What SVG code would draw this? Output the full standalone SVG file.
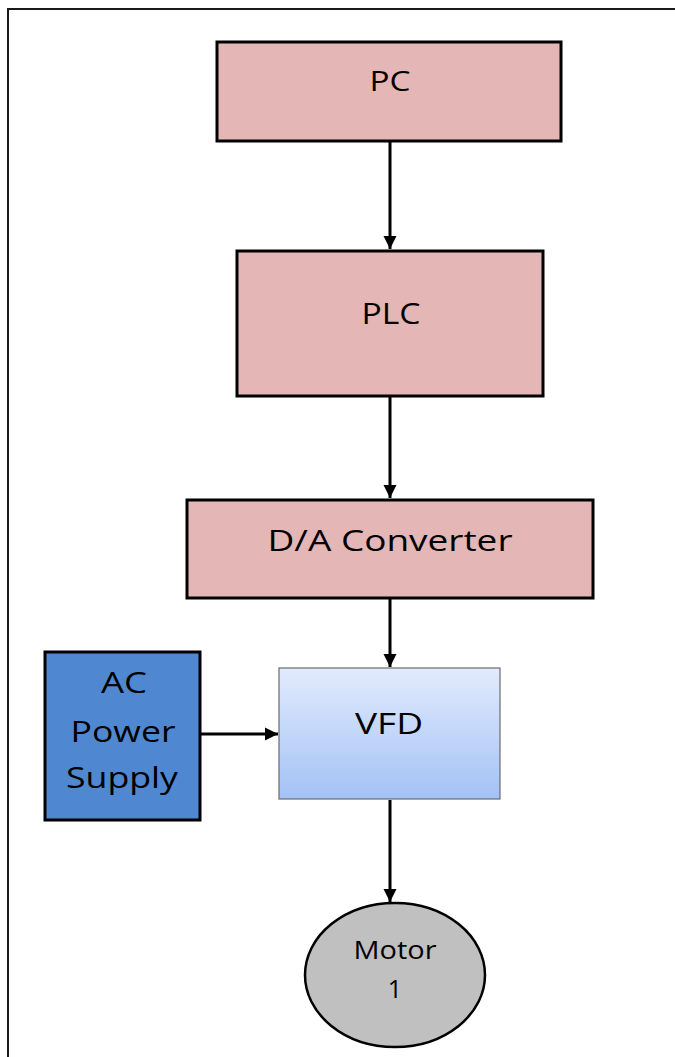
<svg xmlns="http://www.w3.org/2000/svg" width="675" height="1057" viewBox="0 0 675 1057">
<style>
.box{fill:#e5b6b6;stroke:#000;stroke-width:3}
.lbl{font-family:"Open Sans","Liberation Sans",sans-serif;fill:#000;text-anchor:middle}
.conn{stroke:#000;stroke-width:3;fill:none}
</style>
<defs>
<linearGradient id="vfdg" x1="0" y1="0" x2="0" y2="1">
<stop offset="0" stop-color="#e2ebfd"/>
<stop offset="1" stop-color="#a3c2f5"/>
</linearGradient>
<marker id="arr" viewBox="0 0 10 10" refX="10" refY="5" markerWidth="4.5" markerHeight="4.5" orient="auto" markerUnits="strokeWidth">
<path d="M0,0 L10,5 L0,10 z" fill="#000"/>
</marker>
</defs>
<rect width="675" height="1057" fill="#fff"/>
<rect x="8" y="9" width="700" height="1100" fill="none" stroke="#1a1a1a" stroke-width="2"/>
<g id="connectors">
<line class="conn" x1="390" y1="141" x2="390" y2="249" marker-end="url(#arr)"/>
<line class="conn" x1="390" y1="397" x2="390" y2="498" marker-end="url(#arr)"/>
<line class="conn" x1="390" y1="599" x2="390" y2="667" marker-end="url(#arr)"/>
<line class="conn" x1="201" y1="734" x2="278" y2="734" marker-end="url(#arr)"/>
<line class="conn" x1="390" y1="800" x2="390" y2="902" marker-end="url(#arr)"/>
</g>
<g id="pc">
<rect class="box" x="217" y="42" width="344" height="99"/>
<text class="lbl" x="390" y="91" font-size="28" textLength="41" lengthAdjust="spacingAndGlyphs">PC</text>
</g>
<g id="plc">
<rect class="box" x="237" y="251" width="306" height="145"/>
<text class="lbl" x="391" y="324" font-size="30" textLength="59" lengthAdjust="spacingAndGlyphs">PLC</text>
</g>
<g id="da">
<rect class="box" x="187" y="500" width="406" height="98"/>
<text class="lbl" x="390" y="551" font-size="30" textLength="245" lengthAdjust="spacingAndGlyphs">D/A Converter</text>
</g>
<g id="vfd">
<rect x="279" y="668" width="221" height="131" fill="url(#vfdg)" stroke="#6b6b6b" stroke-width="1.2"/>
<text class="lbl" x="389" y="734" font-size="30" textLength="68" lengthAdjust="spacingAndGlyphs">VFD</text>
</g>
<g id="ac">
<rect x="45" y="652" width="155" height="168" fill="#4f88d0" stroke="#000" stroke-width="3"/>
<text class="lbl" x="124" y="693" font-size="30" textLength="46" lengthAdjust="spacingAndGlyphs">AC</text>
<text class="lbl" x="123" y="742" font-size="30" textLength="105" lengthAdjust="spacingAndGlyphs">Power</text>
<text class="lbl" x="122" y="788" font-size="30" textLength="112" lengthAdjust="spacingAndGlyphs">Supply</text>
</g>
<g id="motor">
<ellipse cx="395" cy="975" rx="90" ry="72" fill="#c0c0c0" stroke="#000" stroke-width="2.5"/>
<text class="lbl" x="395" y="959" font-size="25" textLength="83" lengthAdjust="spacingAndGlyphs">Motor</text>
<text class="lbl" x="395" y="998" font-size="25">1</text>
</g>
</svg>
